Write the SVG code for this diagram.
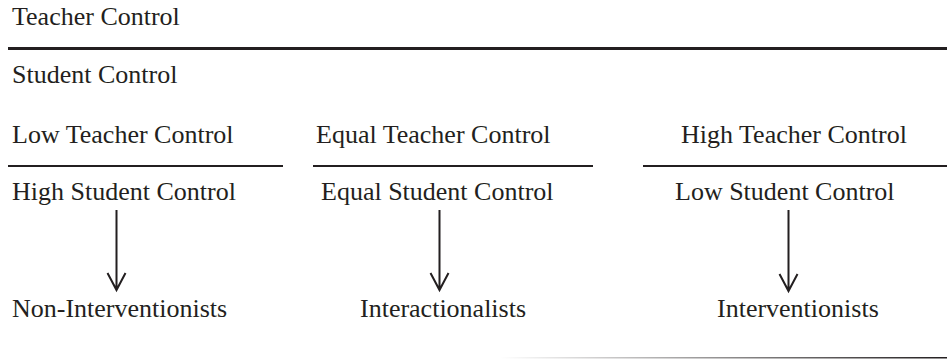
<svg xmlns="http://www.w3.org/2000/svg" width="947" height="359" viewBox="0 0 947 359">
  <defs>
    <style>
      text { font-family: "Liberation Serif", "Times New Roman", serif; font-size: 26px; fill: #231f20; }
      .rule { stroke: #231f20; stroke-width: 2; fill: none; }
      .rule-bold { stroke: #231f20; stroke-width: 3; fill: none; }
      .arrow { stroke: #231f20; stroke-width: 2; fill: none; stroke-linecap: butt; stroke-linejoin: miter; }
    </style>
    <linearGradient id="fadeRule" x1="0" y1="0" x2="1" y2="0">
      <stop offset="0" stop-color="#231f20" stop-opacity="0"/>
      <stop offset="0.6" stop-color="#231f20" stop-opacity="0.6"/>
      <stop offset="1" stop-color="#231f20" stop-opacity="1"/>
    </linearGradient>
  </defs>
  <rect width="947" height="359" fill="#ffffff"/>

  <!-- overall axis: teacher vs student control -->
  <g id="axis">
    <text x="12" y="25">Teacher Control</text>
    <line class="rule-bold" x1="8" y1="48.5" x2="947" y2="48.5"/>
    <text x="12" y="83">Student Control</text>
  </g>

  <g id="node-low">
    <text x="12" y="143">Low Teacher Control</text>
    <line class="rule" x1="8" y1="166" x2="283" y2="166"/>
    <text x="12" y="200">High Student Control</text>
  </g>

  <g id="node-equal">
    <text x="316" y="143">Equal Teacher Control</text>
    <line class="rule" x1="313" y1="166" x2="593" y2="166"/>
    <text x="321" y="200">Equal Student Control</text>
  </g>

  <g id="node-high">
    <text x="681" y="143">High Teacher Control</text>
    <line class="rule" x1="643" y1="166" x2="947" y2="166"/>
    <text x="675" y="200">Low Student Control</text>
  </g>

  <g id="result-non">
    <text x="12" y="317">Non-Interventionists</text>
  </g>
  <g id="result-inter">
    <text x="360" y="317">Interactionalists</text>
  </g>
  <g id="result-interv">
    <text x="717" y="317">Interventionists</text>
  </g>

  <!-- connectors -->
  <g id="connectors">
    <path class="arrow" d="M116.5 210 V290 M107.5 273 L116.5 290 L125.5 273"/>
    <path class="arrow" d="M439.5 210 V290 M430.5 273 L439.5 290 L448.5 273"/>
    <path class="arrow" d="M788.5 210 V291 M779.5 274 L788.5 291 L797.5 274"/>
  </g>

  <!-- fading rule along the bottom edge -->
  <rect x="500" y="357" width="447" height="1.5" fill="url(#fadeRule)"/>
</svg>
